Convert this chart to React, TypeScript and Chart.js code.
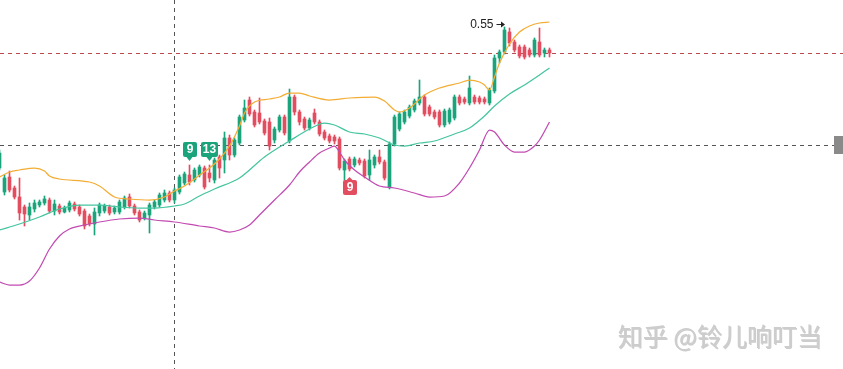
import React, { useEffect, useRef } from 'react';
import { Chart, registerables } from 'chart.js';

Chart.register(...registerables);

// ---- Candle data (price) ----
const opens = [
  0.409, 0.385, 0.400, 0.389, 0.380, 0.370, 0.362, 0.368, 0.372, 0.374,
  0.377, 0.366, 0.371, 0.365, 0.367, 0.373, 0.370, 0.366, 0.361, 0.353,
  0.364, 0.366, 0.370, 0.365, 0.365, 0.370, 0.380, 0.371, 0.365, 0.359,
  0.362, 0.370, 0.372, 0.377, 0.384, 0.377, 0.385, 0.394, 0.402, 0.397,
  0.402, 0.409, 0.404, 0.397, 0.420, 0.417, 0.439, 0.422, 0.434, 0.457,
  0.477, 0.465, 0.464, 0.456, 0.455, 0.437, 0.447, 0.460, 0.436, 0.480,
  0.465, 0.458, 0.449, 0.464, 0.455, 0.445, 0.441, 0.440, 0.438, 0.407,
  0.418, 0.412, 0.417, 0.416, 0.402, 0.412, 0.420, 0.415, 0.390, 0.433,
  0.448, 0.455, 0.461, 0.467, 0.474, 0.480, 0.470, 0.465, 0.465, 0.452,
  0.455, 0.459, 0.480, 0.478, 0.474, 0.480, 0.479, 0.478, 0.474, 0.486,
  0.519, 0.525, 0.545, 0.535, 0.530, 0.530, 0.527, 0.522, 0.535, 0.524,
  0.527,
];
const highs = [
  0.427, 0.402, 0.406, 0.391, 0.399, 0.372, 0.374, 0.377, 0.377, 0.381,
  0.379, 0.377, 0.373, 0.371, 0.376, 0.375, 0.372, 0.368, 0.363, 0.369,
  0.374, 0.373, 0.372, 0.371, 0.377, 0.381, 0.383, 0.373, 0.367, 0.366,
  0.374, 0.377, 0.384, 0.387, 0.386, 0.389, 0.402, 0.405, 0.412, 0.409,
  0.412, 0.411, 0.412, 0.419, 0.422, 0.445, 0.442, 0.439, 0.462, 0.477,
  0.480, 0.467, 0.479, 0.458, 0.459, 0.450, 0.462, 0.462, 0.488, 0.482,
  0.467, 0.460, 0.459, 0.468, 0.457, 0.447, 0.443, 0.442, 0.440, 0.418,
  0.420, 0.420, 0.419, 0.418, 0.427, 0.422, 0.427, 0.417, 0.435, 0.462,
  0.465, 0.467, 0.472, 0.478, 0.497, 0.482, 0.472, 0.467, 0.467, 0.468,
  0.469, 0.482, 0.482, 0.480, 0.501, 0.482, 0.481, 0.480, 0.489, 0.522,
  0.527, 0.550, 0.549, 0.537, 0.532, 0.532, 0.529, 0.539, 0.549, 0.529,
  0.529,
];
const lows = [
  0.407, 0.382, 0.385, 0.378, 0.357, 0.351, 0.357, 0.365, 0.370, 0.372,
  0.364, 0.362, 0.363, 0.364, 0.365, 0.366, 0.361, 0.348, 0.351, 0.342,
  0.361, 0.364, 0.362, 0.363, 0.363, 0.368, 0.369, 0.362, 0.355, 0.357,
  0.344, 0.368, 0.370, 0.375, 0.375, 0.374, 0.383, 0.392, 0.392, 0.395,
  0.400, 0.388, 0.395, 0.394, 0.399, 0.404, 0.417, 0.420, 0.432, 0.455,
  0.461, 0.450, 0.453, 0.442, 0.427, 0.434, 0.445, 0.442, 0.434, 0.462,
  0.452, 0.447, 0.447, 0.453, 0.441, 0.437, 0.434, 0.433, 0.407, 0.397,
  0.406, 0.410, 0.412, 0.399, 0.397, 0.409, 0.413, 0.397, 0.388, 0.431,
  0.446, 0.453, 0.459, 0.465, 0.472, 0.461, 0.461, 0.458, 0.450, 0.450,
  0.453, 0.457, 0.472, 0.473, 0.472, 0.473, 0.473, 0.473, 0.472, 0.484,
  0.514, 0.523, 0.531, 0.525, 0.519, 0.518, 0.520, 0.520, 0.520, 0.520,
  0.520,
];
const closes = [
  0.424, 0.399, 0.387, 0.380, 0.364, 0.363, 0.370, 0.374, 0.375, 0.378,
  0.366, 0.373, 0.365, 0.369, 0.374, 0.368, 0.363, 0.351, 0.353, 0.365,
  0.372, 0.371, 0.364, 0.369, 0.375, 0.379, 0.371, 0.364, 0.357, 0.364,
  0.372, 0.375, 0.382, 0.384, 0.377, 0.387, 0.400, 0.403, 0.395, 0.407,
  0.410, 0.390, 0.399, 0.417, 0.409, 0.439, 0.422, 0.437, 0.460, 0.469,
  0.463, 0.452, 0.455, 0.444, 0.431, 0.448, 0.460, 0.444, 0.480, 0.465,
  0.455, 0.449, 0.457, 0.455, 0.443, 0.439, 0.436, 0.436, 0.409, 0.416,
  0.408, 0.418, 0.414, 0.401, 0.417, 0.420, 0.415, 0.399, 0.433, 0.460,
  0.463, 0.465, 0.470, 0.476, 0.480, 0.463, 0.463, 0.460, 0.452, 0.466,
  0.467, 0.480, 0.474, 0.475, 0.489, 0.475, 0.475, 0.475, 0.487, 0.519,
  0.525, 0.547, 0.534, 0.527, 0.521, 0.520, 0.522, 0.537, 0.522, 0.527,
  0.524,
];

// ---- Bollinger bands: [candle index, price] ----
const upperBand = [
  [0, 0.400], [2, 0.405], [4, 0.407], [7, 0.409], [9, 0.406], [10, 0.401],
  [12, 0.398], [18, 0.395], [20, 0.391], [23, 0.380], [26, 0.378], [30, 0.377],
  [33, 0.380], [35, 0.386], [37, 0.391], [39, 0.398], [40, 0.402], [42, 0.409],
  [44, 0.418], [46, 0.431], [48, 0.451], [49, 0.464], [51, 0.475], [54, 0.478],
  [56, 0.480], [58, 0.484], [60, 0.484], [62, 0.481], [66, 0.477], [70, 0.479],
  [75, 0.480], [77, 0.476], [79, 0.467], [80, 0.465], [82, 0.469], [85, 0.482],
  [88, 0.489], [92, 0.494], [94, 0.497], [96, 0.495], [97, 0.492], [98, 0.487],
  [99, 0.500], [100, 0.514], [102, 0.533], [104, 0.545], [106, 0.551], [108, 0.554],
  [110, 0.555],
];
const middleBand = [
  [0, 0.347], [4, 0.353], [8, 0.360], [12, 0.368], [16, 0.372], [20, 0.372],
  [24, 0.370], [28, 0.369], [31, 0.369], [35, 0.371], [37, 0.373], [40, 0.381],
  [43, 0.388], [48, 0.399], [53, 0.420], [58, 0.436], [62, 0.448], [65, 0.454],
  [67, 0.452], [70, 0.445], [73, 0.443], [76, 0.439], [79, 0.432], [81, 0.431],
  [84, 0.434], [87, 0.436], [91, 0.443], [94, 0.449], [97, 0.461], [99, 0.471],
  [102, 0.483], [105, 0.492], [108, 0.502], [110, 0.509],
];
const lowerBand = [
  [0, 0.295], [2, 0.292], [4, 0.292], [6, 0.296], [8, 0.309], [10, 0.328],
  [12, 0.341], [14, 0.348], [17, 0.352], [20, 0.355], [24, 0.358], [28, 0.359],
  [31, 0.357], [35, 0.355], [40, 0.351], [43, 0.349], [46, 0.345], [48, 0.347],
  [50, 0.352], [52, 0.362], [55, 0.377], [58, 0.392], [60, 0.405], [62, 0.415],
  [64, 0.424], [66, 0.429], [67, 0.431], [68, 0.425], [69, 0.417], [71, 0.407],
  [73, 0.400], [76, 0.391], [79, 0.389], [83, 0.384], [86, 0.380], [89, 0.381],
  [92, 0.394], [94, 0.409], [96, 0.427], [98, 0.447], [99, 0.445], [101, 0.432],
  [103, 0.425], [105, 0.425], [107, 0.431], [108, 0.437], [110, 0.455],
];

// ---- Signals / annotations ----
const signalIndex = [38, 42, 70];
const signalText = ['9', '13', '9'];
const signalSide = ['up', 'up', 'down'];
const lastPrice = 0.524;
const crosshairIndex = 35;
const crosshairPrice = 0.432;
const watermark = '知乎 @铃儿响叮当';

const UP = '#1ba47c';
const DOWN = '#e24e5f';

export default function App() {
  const ref = useRef<HTMLCanvasElement | null>(null);

  useEffect(() => {
    const canvas = ref.current;
    if (!canvas) return;
    const idx = opens.map((_, i) => i);
    const colors = idx.map((i) => (closes[i] >= opens[i] ? UP : DOWN));
    const bodies = idx.map((i) => ({
      x: i,
      y: [Math.min(opens[i], closes[i]), Math.max(opens[i], closes[i])],
    }));
    const wicks = idx.map((i) => ({ x: i, y: [lows[i], highs[i]] }));
    const pts = (b: number[][]) => b.map(([x, y]) => ({ x, y }));

    const lineDs = (data: number[][], color: string) => ({
      type: 'line' as const,
      data: pts(data),
      borderColor: color,
      borderWidth: 1.25,
      pointRadius: 0,
      cubicInterpolationMode: 'monotone' as const,
      fill: false,
    });

    const overlay = {
      id: 'overlay',
      beforeDatasetsDraw(chart: any) {
        const { ctx, chartArea, scales } = chart;
        const xs = scales.x;
        const ys = scales.y;
        ctx.save();
        ctx.lineWidth = 1;
        ctx.setLineDash([4, 4]);
        const ly = Math.round(ys.getPixelForValue(lastPrice)) + 0.5;
        ctx.strokeStyle = 'rgba(184,64,72,0.95)';
        ctx.beginPath();
        ctx.moveTo(chartArea.left, ly);
        ctx.lineTo(chartArea.right, ly);
        ctx.stroke();
        const cy = Math.round(ys.getPixelForValue(crosshairPrice)) + 0.5;
        const cx = Math.floor(xs.getPixelForValue(crosshairIndex)) + 0.5;
        ctx.strokeStyle = '#555';
        ctx.beginPath();
        ctx.moveTo(chartArea.left, cy);
        ctx.lineTo(chartArea.right, cy);
        ctx.stroke();
        ctx.beginPath();
        ctx.moveTo(cx, chartArea.top);
        ctx.lineTo(cx, chartArea.bottom);
        ctx.stroke();
        ctx.restore();
      },
      afterDatasetsDraw(chart: any) {
        const { ctx, chartArea, scales } = chart;
        const xs = scales.x;
        const ys = scales.y;
        ctx.save();
        // signal markers
        ctx.font = 'bold 12px "Liberation Sans", Arial, sans-serif';
        ctx.textAlign = 'center';
        ctx.textBaseline = 'middle';
        signalIndex.forEach((si, k) => {
          const px = xs.getPixelForValue(si);
          const tw = ctx.measureText(signalText[k]).width;
          const w = Math.max(14, Math.round(tw + 4));
          const h = 15;
          const isUp = signalSide[k] === 'up';
          const color = isUp ? UP : DOWN;
          let top: number;
          ctx.fillStyle = color;
          ctx.beginPath();
          if (isUp) {
            const hp = Math.round(ys.getPixelForValue(highs[si]));
            top = hp - 8 - h;
            ctx.moveTo(px - 3, hp - 8);
            ctx.lineTo(px + 3, hp - 8);
            ctx.lineTo(px, hp - 4);
          } else {
            const lp = Math.round(ys.getPixelForValue(lows[si]));
            top = lp + 9;
            ctx.moveTo(px - 3, top);
            ctx.lineTo(px + 3, top);
            ctx.lineTo(px, top - 3);
          }
          ctx.closePath();
          ctx.fill();
          ctx.beginPath();
          const left = Math.round(px - w / 2);
          if ((ctx as any).roundRect) (ctx as any).roundRect(left, top, w, h, 2);
          else ctx.rect(left, top, w, h);
          ctx.fill();
          ctx.fillStyle = '#fff';
          ctx.fillText(signalText[k], left + w / 2, top + h / 2 + 0.5);
        });
        // max high label with arrow
        let mi = 0;
        highs.forEach((v, i) => {
          if (v > highs[mi]) mi = i;
        });
        const mx = xs.getPixelForValue(mi);
        const my = Math.round(ys.getPixelForValue(highs[mi])) - 2.5;
        ctx.font = '12px "Liberation Sans", Arial, sans-serif';
        ctx.textAlign = 'right';
        ctx.textBaseline = 'middle';
        ctx.fillStyle = '#222';
        ctx.fillText(highs[mi].toFixed(2), mx - 11, my);
        ctx.strokeStyle = '#222';
        ctx.lineWidth = 1;
        ctx.beginPath();
        ctx.moveTo(mx - 8, my);
        ctx.lineTo(mx - 1, my);
        ctx.stroke();
        ctx.beginPath();
        ctx.moveTo(mx + 0.5, my);
        ctx.lineTo(mx - 3.5, my - 3);
        ctx.lineTo(mx - 3.5, my + 3);
        ctx.closePath();
        ctx.fill();
        // crosshair price tag (cut off at right edge)
        const cy = Math.round(ys.getPixelForValue(crosshairPrice));
        ctx.fillStyle = '#8a8a8a';
        ctx.fillRect(chartArea.right - 9, cy - 9, 9, 18);
        // watermark
        ctx.font = '25px "Noto Sans CJK SC", sans-serif';
        ctx.textAlign = 'right';
        ctx.textBaseline = 'middle';
        ctx.fillStyle = 'rgba(130,130,130,0.4)';
        ctx.fillText(watermark, 822, 336);
        ctx.fillStyle = '#cdcdcd';
        ctx.fillText(watermark, 823, 337);
        ctx.restore();
      },
    };

    const chart = new Chart(canvas, {
      type: 'bar',
      data: {
        datasets: [
          lineDs(upperBand, '#f3ad35') as any,
          lineDs(middleBand, '#45c59f') as any,
          lineDs(lowerBand, '#c24bb2') as any,
          {
            type: 'bar',
            data: bodies as any,
            backgroundColor: colors,
            borderWidth: 0,
            barThickness: 3,
            grouped: false,
          },
          {
            type: 'bar',
            data: wicks as any,
            backgroundColor: colors,
            borderWidth: 0,
            barThickness: 1,
            grouped: false,
          },
        ],
      },
      options: {
        responsive: false,
        animation: false,
        events: [],
        layout: { padding: 0 },
        plugins: {
          legend: { display: false },
          tooltip: { enabled: false },
        },
        scales: {
          x: { type: 'linear', min: 0.1, max: 168.7, display: false, offset: false },
          y: { type: 'linear', min: 0.208, max: 0.577, display: false },
        },
      },
      plugins: [overlay],
    });
    return () => chart.destroy();
  }, []);

  return (
    <div
      style={{
        position: 'absolute',
        left: 0,
        top: 0,
        width: 843,
        height: 369,
        background: '#fff',
      }}
    >
      <canvas ref={ref} width={843} height={369} style={{ display: 'block' }} />
    </div>
  );
}
